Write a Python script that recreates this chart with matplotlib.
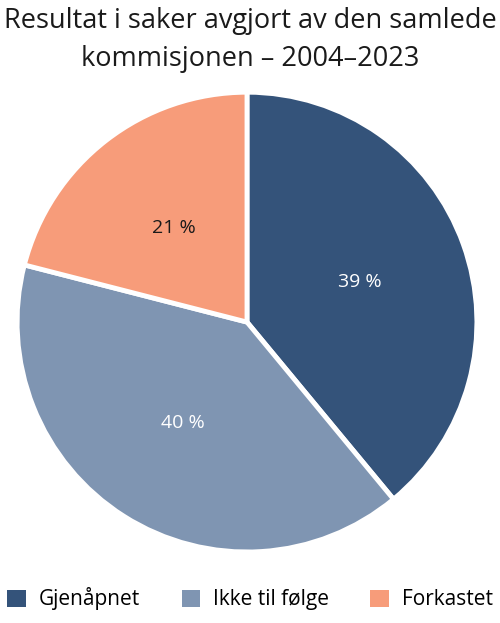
import numpy as np
import matplotlib.pyplot as plt
from matplotlib.patches import Patch

plt.rcParams['font.family'] = ['Open Sans', 'DejaVu Sans']

# data
categories = ["Gjenåpnet", "Ikke til følge", "Forkastet"]
shares = [39, 40, 21]
colors = ["#34537a", "#7f95b2", "#f79c7a"]
label_colors = ["white", "white", "#1a1a1a"]
title = "Resultat i saker avgjort av den samlede\nkommisjonen – 2004–2023"

fig = plt.figure(figsize=(5, 6.23), dpi=100)
ax = fig.add_axes([0.034, 0.114, 0.92, 0.738])

wedges, _ = ax.pie(shares, colors=colors, startangle=90, counterclock=False,
                   wedgeprops=dict(edgecolor="white", linewidth=3.5))
ax.set_xlim(-1.0, 1.0)
ax.set_ylim(-1.0, 1.0)
ax.set_aspect("equal")

# percentage labels inside each slice
for w, val, lc in zip(wedges, shares, label_colors):
    mid = np.deg2rad((w.theta1 + w.theta2) / 2)
    r = 0.52
    ax.text(r * np.cos(mid), r * np.sin(mid), f"{val} %", ha="center", va="center",
            fontsize=14, color=lc)

fig.text(0.5, 0.988, title, ha="center", va="top", fontsize=19.5, color="#1a1a1a",
         linespacing=1.45)

handles = [Patch(facecolor=c, edgecolor="none") for c in colors]
fig.legend(handles, categories, loc="lower center", ncol=3, frameon=False,
           fontsize=15, bbox_to_anchor=(0.5, -0.01), handlelength=0.9, handleheight=0.9,
           columnspacing=2.0, handletextpad=0.6)

fig.savefig("out.png", dpi=100)
